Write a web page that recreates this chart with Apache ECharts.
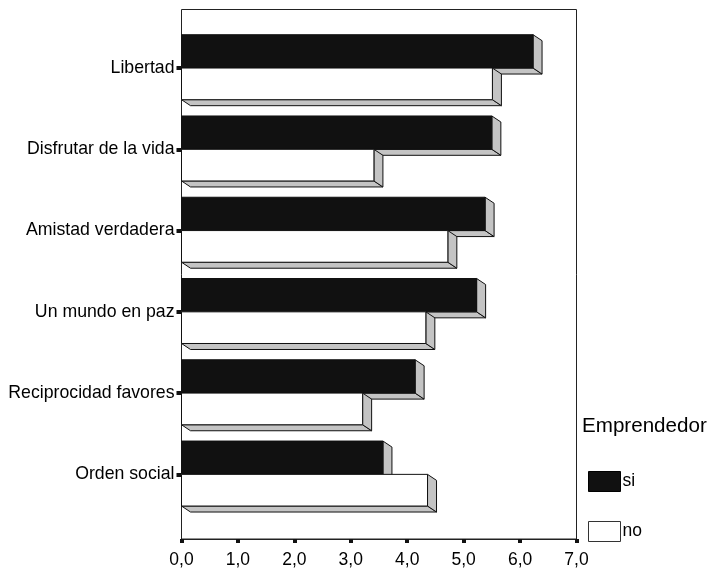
<!DOCTYPE html>
<html>
<head>
<meta charset="utf-8">
<script src="https://cdn.jsdelivr.net/npm/echarts@6/dist/echarts.min.js"></script>
<style>
  html, body { margin: 0; padding: 0; background: #fff; }
  #chart { width: 719px; height: 569px; }
</style>
</head>
<body>
<div id="chart"></div>
<script>
// Mean rating of each value, split by whether the respondent is an entrepreneur
const categories = ['Libertad', 'Disfrutar de la vida', 'Amistad verdadera', 'Un mundo en paz', 'Reciprocidad favores', 'Orden social'];
const siValues = [6.23, 5.50, 5.38, 5.23, 4.14, 3.57];
const noValues = [5.51, 3.41, 4.72, 4.33, 3.21, 4.36];
const xTickLabels = ['0,0', '1,0', '2,0', '3,0', '4,0', '5,0', '6,0', '7,0'];
const seriesNames = ['si', 'no'];
const legendTitle = 'Emprendedor';

const FONT = '"Liberation Sans", Arial, sans-serif';
const DEPTH_X = 9, DEPTH_Y = 6;
const FACE_GRAY = '#c4c4c4';
const EDGE = '#111';

// Pseudo-3D horizontal bar: front face, right side face and bottom face
function makeBarRenderer(upper) {
  return function (params, api) {
    const i = api.value(1);
    const v = api.value(0);
    const base = api.coord([0, i]);
    const end = api.coord([v, i]);
    const band = api.size([0, 1])[1];
    const h = band * 0.41;
    const x0 = base[0], xe = end[0];
    const yt = upper ? base[1] - h : base[1];
    const yb = upper ? base[1] : base[1] + h * 0.95;
    const stroke = { stroke: EDGE, lineWidth: 1 };
    return {
      type: 'group',
      children: [
        {
          type: 'polygon',
          shape: { points: [[x0, yb], [xe, yb], [xe + DEPTH_X, yb + DEPTH_Y], [x0 + DEPTH_X, yb + DEPTH_Y]] },
          style: Object.assign({ fill: FACE_GRAY }, stroke)
        },
        {
          type: 'polygon',
          shape: { points: [[xe, yt], [xe + DEPTH_X, yt + DEPTH_Y], [xe + DEPTH_X, yb + DEPTH_Y], [xe, yb]] },
          style: Object.assign({ fill: FACE_GRAY }, stroke)
        },
        {
          type: 'rect',
          shape: { x: x0, y: yt, width: xe - x0, height: yb - yt },
          style: Object.assign({ fill: api.visual('color') }, stroke)
        }
      ]
    };
  };
}

const chart = echarts.init(document.getElementById('chart'), null, { renderer: 'canvas' });

chart.setOption({
  animation: false,
  backgroundColor: '#fff',
  textStyle: { fontFamily: FONT, color: '#000' },
  title: {
    text: legendTitle,
    left: 582,
    top: 416,
    padding: 0,
    textStyle: { fontFamily: FONT, fontSize: 20.6, fontWeight: 'normal', color: '#000' }
  },
  legend: {
    orient: 'vertical',
    left: 588,
    top: 471,
    padding: 0,
    itemWidth: 32,
    itemHeight: 20,
    itemGap: 29,
    selectedMode: false,
    textStyle: { fontFamily: FONT, fontSize: 17.5, color: '#000', padding: [0, 0, 0, -3] },
    data: [
      { name: 'si', icon: 'rect', itemStyle: { color: '#111', borderColor: '#000', borderWidth: 1 } },
      { name: 'no', icon: 'rect', itemStyle: { color: '#fff', borderColor: '#333', borderWidth: 1 } }
    ]
  },
  grid: [
    { left: 181.5, width: 395, top: 27.4, height: 487.6, containLabel: false },
    { left: 181.5, width: 395, top: 9.5, height: 529.5, show: true, borderColor: '#222', borderWidth: 1, backgroundColor: 'transparent' }
  ],
  xAxis: [
    { gridIndex: 0, type: 'value', min: 0, max: 7, show: false },
    {
      gridIndex: 1, type: 'value', min: 0, max: 7, interval: 1,
      axisLine: { show: true, lineStyle: { color: '#222', width: 1 } },
      axisTick: { show: true, length: 4, lineStyle: { color: '#111', width: 4 } },
      splitLine: { show: false },
      axisLabel: {
        margin: 12, fontSize: 17.5, fontFamily: FONT, color: '#000',
        formatter: function (v) { return xTickLabels[Math.round(v)]; }
      }
    }
  ],
  yAxis: [
    {
      gridIndex: 0, type: 'category', data: categories, inverse: true,
      axisLine: { show: false },
      axisTick: { show: true, alignWithLabel: true, length: 5, lineStyle: { color: '#111', width: 4 } },
      splitLine: { show: false },
      axisLabel: { margin: 7, fontSize: 17.7, fontFamily: FONT, color: '#000' }
    },
    { gridIndex: 1, type: 'value', min: 0, max: 1, show: false }
  ],
  series: [
    {
      name: seriesNames[0],
      type: 'custom',
      xAxisIndex: 0, yAxisIndex: 0,
      itemStyle: { color: '#111', borderColor: '#000', borderWidth: 1 },
      encode: { x: 0, y: 1 },
      renderItem: makeBarRenderer(true),
      data: siValues.map(function (v, i) { return [v, i]; })
    },
    {
      name: seriesNames[1],
      type: 'custom',
      xAxisIndex: 0, yAxisIndex: 0,
      itemStyle: { color: '#fff', borderColor: '#333', borderWidth: 1 },
      encode: { x: 0, y: 1 },
      renderItem: makeBarRenderer(false),
      data: noValues.map(function (v, i) { return [v, i]; })
    }
  ]
});
</script>
</body>
</html>
